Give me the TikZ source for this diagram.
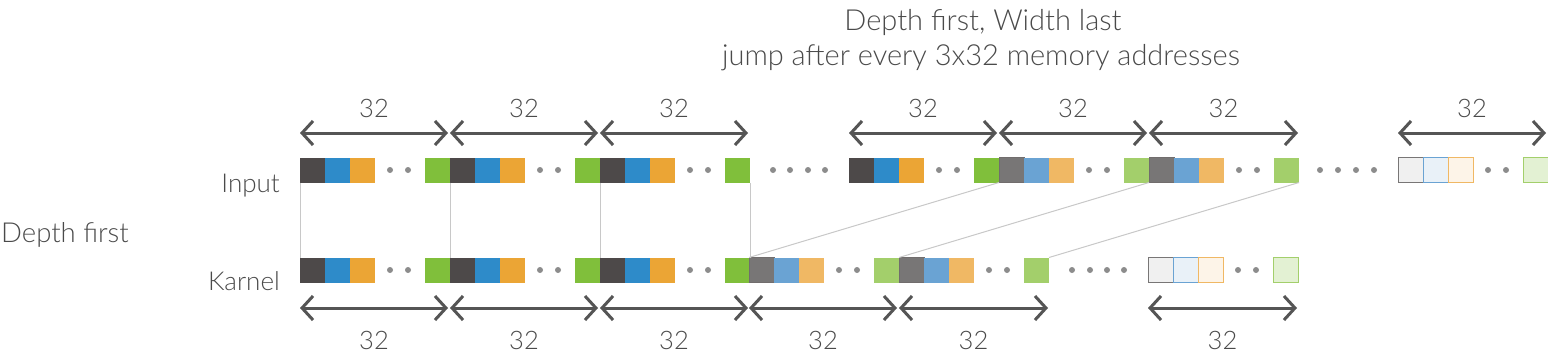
\documentclass[tikz,border=0pt]{standalone}
\usepackage{fontspec}
\setmainfont{Lato}[UprightFont=* Light]
\usetikzlibrary{arrows.meta}
\definecolor{dk}{HTML}{4D4949}
\definecolor{bl}{HTML}{2E8BC9}
\definecolor{orr}{HTML}{EBA535}
\definecolor{gr}{HTML}{80BF3B}
\definecolor{ldk}{HTML}{787676}
\definecolor{lbl}{HTML}{6AA3D3}
\definecolor{lor}{HTML}{F0B864}
\definecolor{lgr}{HTML}{A3CF6B}
\definecolor{txt}{HTML}{4A4A4A}
\definecolor{dotc}{HTML}{8C8C8C}
\definecolor{conn}{HTML}{C8C8C8}
\definecolor{arr}{HTML}{555555}
\tikzset{
  sq/.style={minimum size=25pt, inner sep=0pt, outer sep=0pt, draw=none},
  fd/.style={sq, fill=dk}, fb/.style={sq, fill=bl}, fo/.style={sq, fill=orr}, fg/.style={sq, fill=gr},
  ld/.style={sq, fill=ldk, draw=dk!80, line width=0.8pt}, lb/.style={sq, fill=lbl}, lo/.style={sq, fill=lor}, lg/.style={sq, fill=lgr},
  pd/.style={sq, fill=black!6, draw=ldk, line width=1pt}, pb/.style={sq, fill=lbl!15, draw=lbl, line width=1pt},
  po/.style={sq, fill=lor!15, draw=lor, line width=1pt}, pg/.style={sq, fill=lgr!30, draw=lgr, line width=1pt},
  dt/.style={circle, fill=dotc, minimum size=6pt, inner sep=0pt},
  dim/.style={draw=arr, line width=3pt, {Straight Barb[length=11pt,width=24pt]}-{Straight Barb[length=11pt,width=24pt]}},
  lab/.style={text=txt, font=\fontsize{25.5}{30}\selectfont, anchor=base, inner sep=0pt},
  ttl/.style={text=txt, font=\fontsize{29}{33}\selectfont, anchor=base, inner sep=0pt},
  side/.style={text=txt, font=\fontsize{26}{30}\selectfont, anchor=base east, inner sep=0pt},
  cn/.style={draw=conn, line width=1pt},
}
% group macro: #1 name, #2 x0, #3 y, #4-#7 styles
\newcommand{\grp}[7]{%
  \node[#4] (#1d) at (#2+12.5,#3) {};
  \node[#5] (#1b) at (#2+37.5,#3) {};
  \node[#6] (#1o) at (#2+62.5,#3) {};
  \node[dt] (#1p) at (#2+90,#3) {};
  \node[dt] (#1q) at (#2+108,#3) {};
  \node[#7] (#1g) at (#2+137.5,#3) {};
}
\begin{document}
\begin{tikzpicture}[x=1pt,y=-1pt]
\useasboundingbox (0,0) rectangle (1548,357);
% title
\node[ttl] (t1) at (983,30) {Depth first, Width last};
\node[ttl] (t2) at (981,65) {jump after every 3x32 memory addresses};
\node[side] (inl) at (280,192) {Input};
\node[side] (kal) at (280,290) {Karnel};
\node[text=txt, font=\fontsize{27.5}{32}\selectfont, anchor=base west, inner sep=0pt] (dfl) at (1,242) {Depth first};
% input row
\grp{ia}{300}{170}{fd}{fb}{fo}{fg}
\grp{ib}{450}{170}{fd}{fb}{fo}{fg}
\grp{ic}{600}{170}{fd}{fb}{fo}{fg}
\foreach \x/\n in {773/1,790/2,808/3,825/4} \node[dt] (ix\n) at (\x,170) {};
\grp{id}{849}{170}{fd}{fb}{fo}{fg}
\grp{ie}{999}{170}{ld}{lb}{lo}{lg}
\grp{if}{1149}{170}{ld}{lb}{lo}{lg}
\foreach \x/\n in {1320/1,1338/2,1356/3,1374/4} \node[dt] (iy\n) at (\x,170) {};
\grp{ig}{1398}{170}{pd}{pb}{po}{pg}
% karnel row
\grp{ka}{300}{270}{fd}{fb}{fo}{fg}
\grp{kb}{450}{270}{fd}{fb}{fo}{fg}
\grp{kc}{600}{270}{fd}{fb}{fo}{fg}
\grp{kd}{749}{270}{ld}{lb}{lo}{lg}
\grp{ke}{899}{270}{ld}{lb}{lo}{lg}
\foreach \x/\n in {1072/1,1090/2,1107/3,1124/4} \node[dt] (kx\n) at (\x,270) {};
\grp{kf}{1148}{270}{pd}{pb}{po}{pg}
% connectors
\draw[cn] (iad.south west) -- (kad.north west);
\draw[cn] (ibd.south west) -- (kbd.north west);
\draw[cn] (icd.south west) -- (kcd.north west);
\draw[cn] (icg.south east) -- (kcg.north east);
\draw[cn] (idg.south east) -- (kdd.north west);
\draw[cn] (ieg.south east) -- (ked.north west);
\draw[cn] (ifg.south east) -- (keg.north east);
% top dimension arrows
\foreach \a/\b in {300/448,450/598,600/748,849/997,999/1147,1149/1298,1398/1546} {
  \draw[dim] (\a,133) -- (\b,133);
  \node[lab] at ({(\a+\b)/2},117) {32};
}
\foreach \a/\b in {300/448,450/598,600/748,749/897,899/1048,1148/1297} {
  \draw[dim] (\a,308) -- (\b,308);
  \node[lab] at ({(\a+\b)/2},349) {32};
}
\end{tikzpicture}
\end{document}
